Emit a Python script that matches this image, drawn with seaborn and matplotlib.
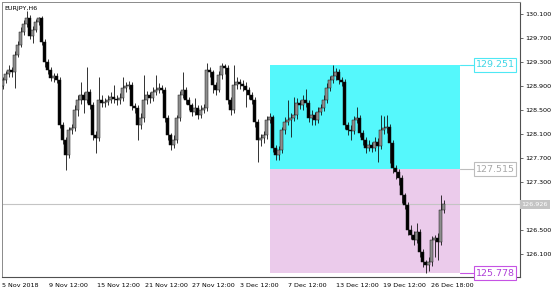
import numpy as np
import pandas as pd
import matplotlib
matplotlib.use("Agg")
import matplotlib.pyplot as plt
import seaborn as sns
from matplotlib.patches import Rectangle

# ---------------- data (EURJPY, H6) ----------------
symbol_title = "EURJPY,H6"
opens = [128.90, 129.00, 129.10, 129.17, 129.13, 129.42, 129.58, 129.80, 129.93, 130.03,
         129.73, 129.83, 129.97, 130.03, 129.63, 129.30, 129.17, 129.03, 129.07, 129.00,
         128.25, 128.00, 127.75, 128.17, 128.20, 128.50, 128.67, 128.75, 128.67, 128.80,
         128.58, 128.08, 128.03, 128.67, 128.62, 128.63, 128.67, 128.72, 128.68, 128.67,
         128.70, 128.87, 128.90, 128.92, 128.57, 128.53, 128.25, 128.37, 128.67, 128.75,
         128.70, 128.80, 128.83, 128.87, 128.83, 128.37, 128.08, 127.92, 128.00, 128.37,
         128.75, 128.83, 128.67, 128.58, 128.47, 128.53, 128.42, 128.50, 128.53, 129.17,
         129.13, 128.92, 128.83, 129.08, 129.23, 129.20, 128.67, 128.50, 128.92, 128.97,
         128.93, 128.90, 128.83, 128.75, 128.67, 128.30, 128.00, 128.03, 128.08, 128.33,
         128.38, 127.87, 127.75, 127.83, 128.17, 128.30, 128.33, 128.37, 128.42, 128.62,
         128.58, 128.67, 128.62, 128.37, 128.42, 128.33, 128.47, 128.53, 128.67, 128.87,
         129.00, 129.07, 129.13, 129.00, 128.97, 128.25, 128.17, 128.15, 128.33, 128.37,
         128.12, 128.00, 127.87, 127.92, 127.87, 127.97, 127.90, 128.17, 128.20, 128.22,
         127.95, 127.53, 127.47, 127.37, 127.08, 126.92, 126.50, 126.42, 126.33, 126.47,
         126.13, 125.97, 125.92, 125.97, 126.33, 126.37, 126.30, 126.83]
closes = [129.00, 129.10, 129.17, 129.13, 129.42, 129.58, 129.80, 129.93, 130.03, 129.73,
          129.83, 129.97, 130.03, 129.63, 129.30, 129.17, 129.03, 129.07, 129.00, 128.25,
          128.00, 127.75, 128.17, 128.20, 128.50, 128.67, 128.75, 128.67, 128.80, 128.58,
          128.08, 128.03, 128.67, 128.62, 128.63, 128.67, 128.72, 128.68, 128.67, 128.70,
          128.87, 128.90, 128.92, 128.57, 128.53, 128.25, 128.37, 128.67, 128.75, 128.70,
          128.80, 128.83, 128.87, 128.83, 128.37, 128.08, 127.92, 128.00, 128.37, 128.75,
          128.83, 128.67, 128.58, 128.47, 128.53, 128.42, 128.50, 128.53, 129.17, 129.13,
          128.92, 128.83, 129.08, 129.23, 129.20, 128.67, 128.50, 128.92, 128.97, 128.93,
          128.90, 128.83, 128.75, 128.67, 128.30, 128.00, 128.03, 128.08, 128.33, 128.38,
          127.87, 127.75, 127.83, 128.17, 128.30, 128.33, 128.37, 128.42, 128.62, 128.58,
          128.67, 128.62, 128.37, 128.42, 128.33, 128.47, 128.53, 128.67, 128.87, 129.00,
          129.07, 129.13, 129.00, 128.97, 128.25, 128.17, 128.15, 128.33, 128.37, 128.12,
          128.00, 127.87, 127.92, 127.87, 127.97, 127.90, 128.17, 128.20, 128.22, 127.95,
          127.53, 127.47, 127.37, 127.08, 126.92, 126.50, 126.42, 126.33, 126.47, 126.13,
          125.97, 125.92, 125.97, 126.33, 126.37, 126.30, 126.83, 126.926]
highs = [129.05, 129.15, 129.25, 129.22, 129.48, 129.65, 129.88, 130.00, 130.15, 130.08,
         129.90, 130.02, 130.05, 130.07, 129.68, 129.35, 129.22, 129.12, 129.12, 129.05,
         128.30, 128.05, 128.22, 128.27, 128.58, 128.75, 128.97, 128.80, 129.22, 128.85,
         128.63, 128.15, 129.05, 128.75, 128.70, 128.75, 128.80, 128.92, 128.75, 128.78,
         129.05, 128.97, 128.98, 128.97, 128.62, 128.58, 128.45, 129.08, 128.82, 128.80,
         128.88, 129.08, 128.95, 128.92, 128.88, 128.42, 128.12, 128.08, 128.42, 128.82,
         129.13, 128.88, 128.72, 128.62, 128.70, 128.58, 128.58, 128.60, 129.28, 129.22,
         129.17, 128.97, 129.15, 129.28, 129.27, 129.25, 128.72, 129.25, 129.05, 129.02,
         129.00, 128.97, 128.88, 128.80, 128.72, 128.35, 128.10, 128.15, 128.40, 128.45,
         128.42, 127.92, 127.90, 128.22, 128.38, 128.67, 128.45, 128.72, 128.70, 128.67,
         128.75, 128.85, 128.67, 128.50, 128.47, 128.55, 128.60, 128.75, 128.95, 129.07,
         129.251, 129.20, 129.18, 129.05, 129.02, 128.30, 128.25, 128.40, 128.55, 128.42,
         128.17, 128.05, 128.00, 127.97, 128.05, 128.03, 128.42, 128.40, 128.42, 128.27,
         128.00, 127.58, 127.52, 127.42, 127.12, 126.97, 126.58, 126.48, 126.62, 126.52,
         126.18, 126.00, 126.05, 126.40, 126.42, 126.45, 127.08, 127.00]
lows = [128.85, 128.95, 129.05, 129.05, 128.87, 129.38, 129.55, 129.75, 129.88, 129.68,
        129.62, 129.80, 129.92, 129.58, 129.22, 129.10, 128.98, 128.97, 128.95, 128.20,
        127.93, 127.50, 127.70, 128.10, 128.15, 128.40, 128.60, 128.45, 128.62, 128.52,
        128.00, 127.78, 127.98, 128.55, 128.55, 128.58, 128.62, 128.62, 128.58, 128.60,
        128.65, 128.80, 128.85, 128.50, 128.45, 128.00, 128.18, 128.30, 128.60, 128.62,
        128.65, 128.75, 128.78, 128.78, 128.30, 128.00, 127.83, 127.87, 127.95, 128.32,
        128.70, 128.60, 128.50, 128.40, 128.42, 128.35, 128.37, 128.45, 128.48, 129.05,
        128.78, 128.75, 128.80, 129.02, 129.10, 128.60, 128.42, 128.45, 128.85, 128.85,
        128.82, 128.55, 128.68, 128.60, 128.22, 127.63, 127.90, 127.95, 128.02, 128.28,
        127.80, 127.67, 127.67, 127.78, 128.10, 128.25, 128.05, 128.32, 128.35, 128.52,
        128.50, 128.55, 128.30, 128.25, 128.25, 128.28, 128.42, 128.48, 128.62, 128.82,
        128.95, 129.00, 128.93, 128.90, 128.18, 128.08, 128.00, 128.10, 128.28, 128.05,
        127.92, 127.78, 127.82, 127.80, 127.82, 127.63, 127.85, 128.10, 128.12, 127.62,
        127.45, 127.35, 127.25, 126.95, 126.85, 126.42, 126.35, 126.25, 126.28, 126.05,
        125.88, 125.778, 125.82, 125.90, 126.05, 126.00, 126.25, 126.78]

price_ticks = [130.1, 129.7, 129.3, 128.9, 128.5, 128.1, 127.7, 127.3, 126.5, 126.1]
time_labels = ["5 Nov 2018", "9 Nov 12:00", "15 Nov 12:00", "21 Nov 12:00", "27 Nov 12:00",
               "3 Dec 12:00", "7 Dec 12:00", "13 Dec 12:00", "19 Dec 12:00", "26 Dec 18:00"]
zone_high = 129.251
zone_mid = 127.515
zone_low = 125.778
current_price = 126.926
zone_start_bar = 89

# ---------------- styling ----------------
sns.set_theme(style="white")
plt.rcParams['font.family'] = ['DejaVu Sans']

df = pd.DataFrame({"o": opens, "h": highs, "l": lows, "c": closes})
df["i"] = np.arange(len(df))
df["bull"] = df["c"] >= df["o"]

W, H = 560, 294
fig = plt.figure(figsize=(W / 100, H / 100), dpi=100)
fig.patch.set_facecolor("white")
ax = fig.add_axes([2 / W, 17 / H, 518 / W, 275 / H])
ax.set_facecolor("white")

px_per_bar = 3.0
x_left = -0.5 / px_per_bar - 0.0
x_right = x_left + 518 / px_per_bar
ax.set_xlim(x_left, x_right)
ax.set_ylim(125.717, 130.30)

# zones (background)
zone_right = x_left + (460 - 2) / px_per_bar
ax.add_patch(Rectangle((zone_start_bar, zone_mid), zone_right - zone_start_bar, zone_high - zone_mid,
                       facecolor="#55f8fc", edgecolor="none", zorder=0))
ax.add_patch(Rectangle((zone_start_bar, zone_low), zone_right - zone_start_bar, zone_mid - zone_low,
                       facecolor="#ebcbeb", edgecolor="none", zorder=0))

# current price line
ax.axhline(current_price, color="#c4c4c4", lw=0.8, zorder=1)

# candles
ax.vlines(df["i"], df["l"], df["h"], color="#111111", lw=0.6, zorder=2)
body_h = (df["c"] - df["o"]).where((df["c"] - df["o"]).abs() > 0.012,
                                   np.sign(df["c"] - df["o"] + 1e-9) * 0.012)
face = np.where(df["bull"], "#8e8e8e", "#000000")
ax.bar(df["i"], body_h, bottom=df["o"], width=0.72, color=face,
       edgecolor="#151515", linewidth=0.35, zorder=3)

# label boxes on the right
lab_left = x_left + (474 - 2) / px_per_bar
lab_right = x_left + (516 - 2) / px_per_bar
box_h = 14 / 60.0
for val, col, tcol in [(zone_high, "#4ee8f4", "#3fd6e6"),
                       (zone_mid, "#bdbdbd", "#a8a8a8"),
                       (zone_low, "#c653e4", "#b040d8")]:
    ax.plot([zone_right, lab_left], [val, val], color=col, lw=0.8, zorder=4, clip_on=False)
    ax.add_patch(Rectangle((lab_left, val - box_h / 2), lab_right - lab_left, box_h,
                           facecolor="white", edgecolor=col, lw=0.8, zorder=5, clip_on=False))
    ax.text((lab_left + lab_right) / 2, val, f"{val:.3f}", color=tcol, fontsize=6.8,
            ha="center", va="center", zorder=6, clip_on=False)

# title
ax.text(0.004, 0.985, symbol_title, transform=ax.transAxes, fontsize=4.6, color="black",
        ha="left", va="top")

# axes / spines
for s in ["left", "top"]:
    ax.spines[s].set_color("#8a8a8a")
    ax.spines[s].set_linewidth(0.7)
for s in ["right", "bottom"]:
    ax.spines[s].set_color("#505050")
    ax.spines[s].set_linewidth(0.8)

ax.yaxis.tick_right()
ax.set_yticks(price_ticks)
ax.set_yticklabels([f"{v:.3f}" for v in price_ticks])
ax.tick_params(axis="y", which="major", direction="out", length=2.5, width=0.6,
               color="#505050", labelsize=4.6, pad=1.5, labelcolor="black")

tick_px = [2] + [49 + 47.75 * k for k in range(len(time_labels) - 1)]
tick_pos = [x_left + (p - 2) / px_per_bar for p in tick_px]
ax.set_xticks(tick_pos)
ax.set_xticklabels(time_labels, ha="left")
ax.tick_params(axis="x", which="major", direction="out", length=3, width=0.6,
               color="#505050", labelsize=4.6, pad=1.0, labelcolor="black")
for lbl in ax.get_xticklabels():
    lbl.set_x(lbl.get_position()[0])

# current price tag
ax.text(1.003, current_price, f"{current_price:.3f}", transform=ax.get_yaxis_transform(),
        fontsize=4.6, color="white", ha="left", va="center", clip_on=False, zorder=7,
        bbox=dict(boxstyle="square,pad=0.25", facecolor="#c4c4c4", edgecolor="none"))

ax.grid(False)
fig.savefig("out.png", dpi=100, facecolor="white")
